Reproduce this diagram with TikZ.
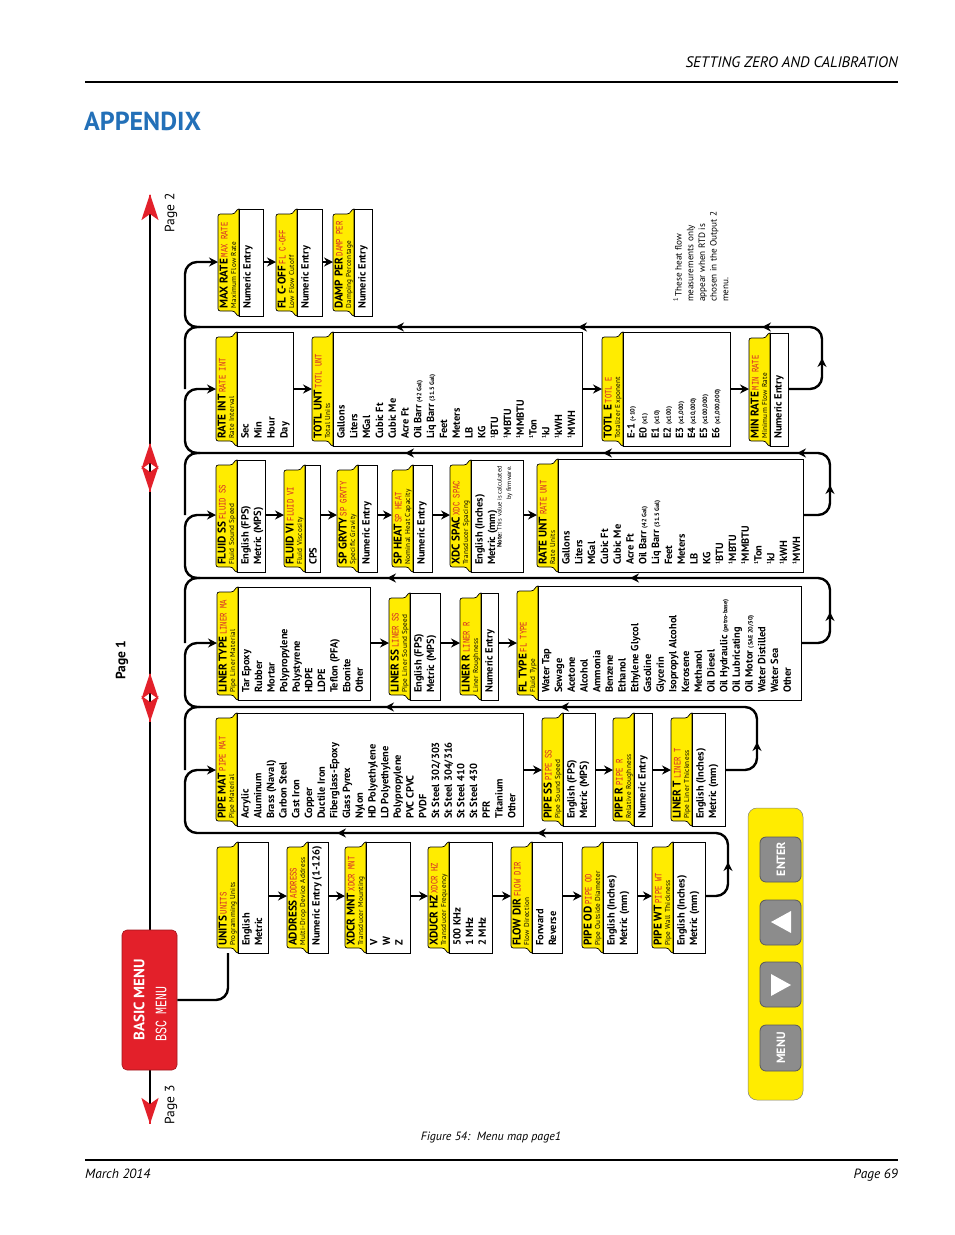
\documentclass[tikz,border=0pt]{standalone}
\usepackage{fontspec}
\setmainfont{PT Sans}
\newfontfamily\lcdfont[FakeStretch=0.72]{Liberation Mono}
\usetikzlibrary{arrows.meta}
\definecolor{yel}{HTML}{FFEC00}
\definecolor{lcdred}{HTML}{D4262C}
\definecolor{bmred}{HTML}{E3202A}
\definecolor{apblue}{HTML}{2370B8}
\definecolor{btngray}{HTML}{8C8C8C}
\newcommand\cskip{12.6}
\newcommand\rowy{896}
\newcommand\contfont{\fontsize{10.4}{\cskip}\selectfont\bfseries}
\newcommand\subf{\fontsize{7.2}{8}\selectfont\mdseries\addfontfeature{LetterSpace=4}}
\newcommand\lcdt[1]{{\lcdfont\fontsize{10}{8}\selectfont\mdseries\color{lcdred}#1}}
\newcommand\smallp[1]{{\fontsize{6.3}{7}\selectfont #1}}
\newcommand\fnm{\textsuperscript{\fontsize{5.5}{6}\selectfont 1}}
\newcommand{\mnu}[9]{%
 \filldraw[fill=yel,draw=black,line width=0.7pt] (#2,#4) .. controls ({#2-3},#4) and ({#2-3},{#4+5}) .. ({#2-7},{#4+5}) -- ({#2-16},{#4+5}) .. controls ({#2-21},{#4+5}) .. ({#2-21},{#4+10}) -- ({#2-21},{#5-10}) .. controls ({#2-21},{#5-5}) .. ({#2-16},{#5-5}) -- ({#2-7},{#5-5}) .. controls ({#2-3},{#5-5}) and ({#2-3},#5) .. (#2,#5) -- cycle;
 \filldraw[fill=white,draw=black,line width=0.7pt] (#2,#4) rectangle (#3,#5);
 \node[rotate=90,anchor=north west,inner sep=0pt,align=left,font=\fontsize{11.2}{8.4}\selectfont] (#1-t) at ({#2-19.5},{#5-7}) {\textbf{#6}\,\lcdt{#7}\\{\subf #8}};
 \node[rotate=90,anchor=north west,inner sep=0pt,align=left,font=\contfont] (#1-c) at ({#2+4},{#5-7}) {#9};
 \coordinate (#1-w) at ({#2-21},\rowy);
 \coordinate (#1-e) at (#3,\rowy);
}
\begin{document}
\begin{tikzpicture}[x=1pt,y=-1pt,
  conn/.style={line width=2.4pt,rounded corners=12pt},
  arr/.style={-{Stealth[length=9pt,width=9pt,inset=3pt]}},
  redhead/.style={bmred,line width=2.4pt,-{Stealth[length=26pt,width=17pt,inset=6pt]}}]
\newcommand\headL[2]{\draw[line width=2.4pt,arr] ({#1+0.5},#2) -- (#1,#2);}
\newcommand\headU[2]{\draw[line width=2.4pt,arr] (#1,{#2+0.5}) -- (#1,#2);}
\useasboundingbox (0,0) rectangle (954,1235);
\fill[white] (0,0) rectangle (954,1235);

% page frame
\node[anchor=base east,inner sep=0,font=\fontsize{15.2}{17}\selectfont\itshape] (hdr) at (898,67) {SETTING ZERO AND CALIBRATION};
\draw[line width=1.4pt] (85,82) -- (898,82);
\node[anchor=base west,inner sep=0,font=\fontsize{26}{28}\selectfont\bfseries,text=apblue] (app) at (84,130) {APPENDIX};
\draw[line width=1.4pt] (85,1160) -- (898,1160);
\node[anchor=base west,inner sep=0,font=\fontsize{13.4}{15}\selectfont\itshape] (date) at (85,1178) {March 2014};
\node[anchor=base east,inner sep=0,font=\fontsize{13.4}{15}\selectfont\itshape] (pg) at (898,1178) {Page 69};
\node[inner sep=0,font=\fontsize{12}{13}\selectfont\itshape] (cap) at (491,1137) {Figure 54:\ \ Menu map page1};

% spine
\draw[line width=2.4pt] (150,200) -- (150,1120);
\draw[redhead] (150,194.5) -- (150,194);
\draw[redhead] (150,443.5) -- (150,443);
\draw[redhead] (150,491.5) -- (150,492);
\draw[redhead] (150,673.5) -- (150,673);
\draw[redhead] (150,721.5) -- (150,722);
\draw[redhead] (150,1123.5) -- (150,1124);
\node[rotate=90,inner sep=0,font=\fontsize{13.5}{14}\selectfont\bfseries] (p1) at (122,660) {Page 1};
\node[rotate=90,inner sep=0,font=\fontsize{13.5}{14}\selectfont] (p2) at (171,213) {Page 2};
\node[rotate=90,inner sep=0,font=\fontsize{13.5}{14}\selectfont] (p3) at (171,1105) {Page 3};

% basic menu
\node[fill=bmred,draw=bmred!70!black,line width=0.6pt,rounded corners=5pt,minimum width=55pt,minimum height=140pt,inner sep=0] (basic) at (149.5,1000) {};
\node[rotate=90,inner sep=0,text=white,font=\fontsize{15}{16}\selectfont\bfseries] (bmt) at (139,1000) {BASIC MENU};
\node[rotate=90,inner sep=0,text=white,font=\lcdfont\fontsize{16}{17}\selectfont] (bml) at (161,1014) {BSC MENU};

% ---------- Row A ----------
\renewcommand\rowy{896}
\mnu{units}{238}{268}{842}{953}{UNITS}{UNITS}{Programming Units}{English\\Metric}
\mnu{addr}{308}{328}{842}{953}{ADDRESS}{ADDRESS}{Multi-Drop Device Address}{Numeric Entry (1-126)}
\mnu{xmnt}{366}{410}{842}{953}{XDCR MNT}{XDCR MNT}{Transducer Mounting}{V\\W\\Z}
\mnu{xhz}{449}{492}{842}{953}{XDUCR HZ}{XDCR HZ}{Transducer Frequency}{500 KHz\\1 MHz\\2 MHz}
\mnu{fdir}{532}{562}{842}{953}{FLOW DIR}{FLOW DIR}{Flow Direction}{Forward\\Reverse}
\mnu{pod}{603}{637}{842}{953}{PIPE OD}{PIPE OD}{Pipe Outside Diameter}{English (Inches)\\Metric (mm)}
\mnu{pwt}{673}{705}{842}{953}{PIPE WT}{PIPE WT}{Pipe Wall Thickness}{English (Inches)\\Metric (mm)}
\coordinate (units-s) at (228,953);
\draw[conn] (basic.east) -- (228,1000) -- (units-s);
\foreach \a/\b in {units/addr,addr/xmnt,xmnt/xhz,xhz/fdir,fdir/pod,pod/pwt}
  \draw[conn,arr] (\a-e) -- (\b-w);

% ---------- Row B ----------
\renewcommand\rowy{770}
\renewcommand\cskip{12.7}
\mnu{pmat}{237}{523}{713}{826}{PIPE MAT}{PIPE MAT}{Pipe Material}{Acrylic\\Aluminum\\Brass (Naval)\\Carbon Steel\\Cast Iron\\Copper\\Ductile Iron\\Fiberglass-Epoxy\\Glass Pyrex\\Nylon\\HD Polyethylene\\LD Polyethylene\\Polypropylene\\PVC CPVC\\PVDF\\St Steel 302/303\\St Steel 304/316\\St Steel 410\\St Steel 430\\PFR\\Titanium\\Other}
\renewcommand\cskip{12.4}
\mnu{pss}{563}{595}{713}{826}{PIPE SS}{PIPE SS}{Pipe Sound Speed}{English (FPS)\\Metric (MPS)}
\mnu{pr}{634}{652}{713}{826}{PIPE R}{PIPE R}{Relative Roughness}{Numeric Entry}
\mnu{lt}{692}{725}{713}{826}{LINER T}{LINER T}{Pipe Liner Thickness}{English (Inches)\\Metric (mm)}
\foreach \a/\b in {pmat/pss,pss/pr,pr/lt}
  \draw[conn,arr] (\a-e) -- (\b-w);
\draw[conn,arr] (pwt-e) -- (728,896) -- (728,833) -- (185,833) -- (185,770) -- (pmat-w);
\headU{728}{862}
\headL{337}{833}\headL{537}{833}

% ---------- Row C ----------
\renewcommand\rowy{643}
\renewcommand\cskip{12.6}
\mnu{ltype}{238}{370}{587}{700}{LINER TYPE}{LINER MA}{Pipe Liner Material}{Tar Epoxy\\Rubber\\Mortar\\Polypropylene\\Polystyrene\\HDPE\\LDPE\\Teflon (PFA)\\Ebonite\\Other}
\renewcommand\cskip{12.4}
\mnu{lss}{410}{440}{593}{700}{LINER SS}{LINER SS}{Pipe Liner Sound Speed}{English (FPS)\\Metric (MPS)}
\mnu{lr}{481}{498}{593}{700}{LINER R}{LINER R}{Liner Roughness}{Numeric Entry}
\renewcommand\cskip{12.7}
\mnu{ftype}{538}{801}{586}{700}{FL TYPE}{FL TYPE}{Fluid Type}{Water Tap\\Sewage\\Acetone\\Alcohol\\Ammonia\\Benzene\\Ethanol\\Ethylene Glycol\\Gasoline\\Glycerin\\Isopropyl Alcohol\\Kerosene\\Methanol\\Oil Diesel\\Oil Hydraulic \smallp{(petro-base)}\\Oil Lubricating\\Oil Motor \smallp{(SAE 20/30)}\\Water Distilled\\Water Sea\\Other}
\foreach \a/\b in {ltype/lss,lss/lr,lr/ftype}
  \draw[conn,arr] (\a-e) -- (\b-w);
\draw[conn,arr] (lt-e) -- (757,770) -- (757,707) -- (185,707) -- (185,643) -- (ltype-w);
\draw[conn] (200,707) -- (185,707) -- (185,770);
\headU{757}{742}
\headL{385}{707}\headL{560}{707}

% ---------- Row D ----------
\renewcommand\rowy{515}
\renewcommand\cskip{12.4}
\mnu{fss}{237}{265}{460}{572}{FLUID SS}{FLUID SS}{Fluid Sound Speed}{English (FPS)\\Metric (MPS)}
\mnu{fvi}{305}{320}{465}{572}{FLUID VI}{FLUID VI}{Fluid Viscosity}{CPS}
\mnu{sg}{358}{377}{465}{572}{SP GRVTY}{SP GRVTY}{Specific Gravity}{Numeric Entry}
\mnu{sh}{413}{432}{465}{572}{SP HEAT}{SP HEAT}{Nominal Heat Capacity}{Numeric Entry}
\mnu{xsp}{471}{523}{460}{572}{XDC SPAC}{XDC SPAC}{Transducer Spacing}{English (Inches)\\Metric (mm)}
\node[rotate=90,anchor=north east,inner sep=0pt,align=right,font=\fontsize{6.4}{9.5}\selectfont] (note) at (497,466) {\textbf{Note:} This value is calculated\\by firmware.};
\renewcommand\cskip{12.8}
\mnu{runt}{558}{803}{459}{572}{RATE UNT}{RATE UNT}{Rate Units}{Gallons\\Liters\\MGal\\Cubic Ft\\Cubic Me\\Acre Ft\\Oil Barr \smallp{(42 Gal)}\\Liq Barr \smallp{(31.5 Gal)}\\Feet\\Meters\\LB\\KG\\\fnm BTU\\\fnm MBTU\\\fnm MMBTU\\\fnm Ton\\\fnm kJ\\\fnm kWH\\\fnm MWH}
\foreach \a/\b in {fss/fvi,fvi/sg,sg/sh,sh/xsp,xsp/runt}
  \draw[conn,arr] (\a-e) -- (\b-w);
\draw[conn,arr] (ftype-e) -- (830,643) -- (830,578) -- (185,578) -- (185,515) -- (fss-w);
\draw[conn] (200,578) -- (185,578) -- (185,643);
\headU{830}{612}
\headL{387}{578}\headL{630}{578}

% ---------- Row E ----------
\renewcommand\rowy{389}
\renewcommand\cskip{13}
\mnu{rint}{237}{293}{332}{446}{RATE INT}{RATE INT}{Rate Interval}{Sec\\Min\\Hour\\Day}
\renewcommand\cskip{12.8}
\mnu{tunt}{333}{582}{332}{446}{TOTL UNT}{TOTL UNT}{Total Units}{Gallons\\Liters\\MGal\\Cubic Ft\\Cubic Me\\Acre Ft\\Oil Barr \smallp{(42 Gal)}\\Liq Barr \smallp{(31.5 Gal)}\\Feet\\Meters\\LB\\KG\\\fnm BTU\\\fnm MBTU\\\fnm MMBTU\\\fnm Ton\\\fnm kJ\\\fnm kWH\\\fnm MWH}
\renewcommand\cskip{12.1}
\mnu{tote}{623}{730}{332}{446}{TOTL E}{TOTL E}{Totalizer Exponent}{E-1 \smallp{(÷10)}\\E0 \smallp{(x1)}\\E1 \smallp{(x10)}\\E2 \smallp{(x100)}\\E3 \smallp{(x1,000)}\\E4 \smallp{(x10,000)}\\E5 \smallp{(x100,000)}\\E6 \smallp{(x1,000,000)}}
\renewcommand\cskip{12.4}
\mnu{minr}{770}{788}{333}{446}{MIN RATE}{MIN RATE}{Minimum Flow Rate}{Numeric Entry}
\foreach \a/\b in {rint/tunt,tunt/tote,tote/minr}
  \draw[conn,arr] (\a-e) -- (\b-w);
\draw[conn,arr] (runt-e) -- (830,515) -- (830,453) -- (185,453) -- (185,389) -- (rint-w);
\draw[conn] (200,453) -- (185,453) -- (185,515);
\headU{830}{485}
\headL{405}{453}\headL{603}{453}\headL{797}{453}

% ---------- Row F ----------
\renewcommand\rowy{262}
\mnu{maxr}{239}{263}{209}{316}{MAX RATE}{MAX RATE}{Maximum Flow Rate}{Numeric Entry}
\mnu{fco}{297}{322}{209}{316}{FL C-OFF}{FL C-OFF}{Low Flow Cutoff}{Numeric Entry}
\mnu{damp}{354}{372}{209}{316}{DAMP PER}{DAMP PER}{Damping Percentage}{Numeric Entry}
\foreach \a/\b in {maxr/fco,fco/damp}
  \draw[conn,arr] (\a-e) -- (\b-w);
\draw[conn,arr] (minr-e) -- (822,389) -- (822,327) -- (185,327) -- (185,262) -- (maxr-w);
\draw[conn] (200,327) -- (185,327) -- (185,389);
\headU{822}{358}
\headL{395}{327}\headL{578}{327}\headL{762}{327}

% footnote
\node[rotate=90,anchor=north west,inner sep=0pt,align=left,font=\fontsize{9.2}{11.7}\selectfont] (fn) at (673,302) {\textsuperscript{1}\,These heat flow\\measurements only\\appear when RTD is\\chosen in the Output 2\\menu.};

% keypad
\filldraw[fill=yel,draw=black!50,line width=0.5pt,rounded corners=9pt] (748,808) rectangle (803,1100);
\foreach \nm/\ya/\yb in {benter/837/882,bup/900/945,bdown/962/1007,bmenu/1025/1071}
  \filldraw[fill=btngray,draw=black!65,line width=0.8pt,rounded corners=6pt] (760,\ya) rectangle (801,\yb);
\node[rotate=90,inner sep=0,text=white,font=\fontsize{12}{13}\selectfont\bfseries] (tenter) at (781,859) {ENTER};
\node[rotate=90,inner sep=0,text=white,font=\fontsize{12}{13}\selectfont\bfseries] (tmenu) at (781,1048) {MENU};
\fill[white] (771,922) -- (791,911) -- (791,933) -- cycle;
\fill[white] (791,985) -- (771,974) -- (771,996) -- cycle;
\end{tikzpicture}
\end{document}
